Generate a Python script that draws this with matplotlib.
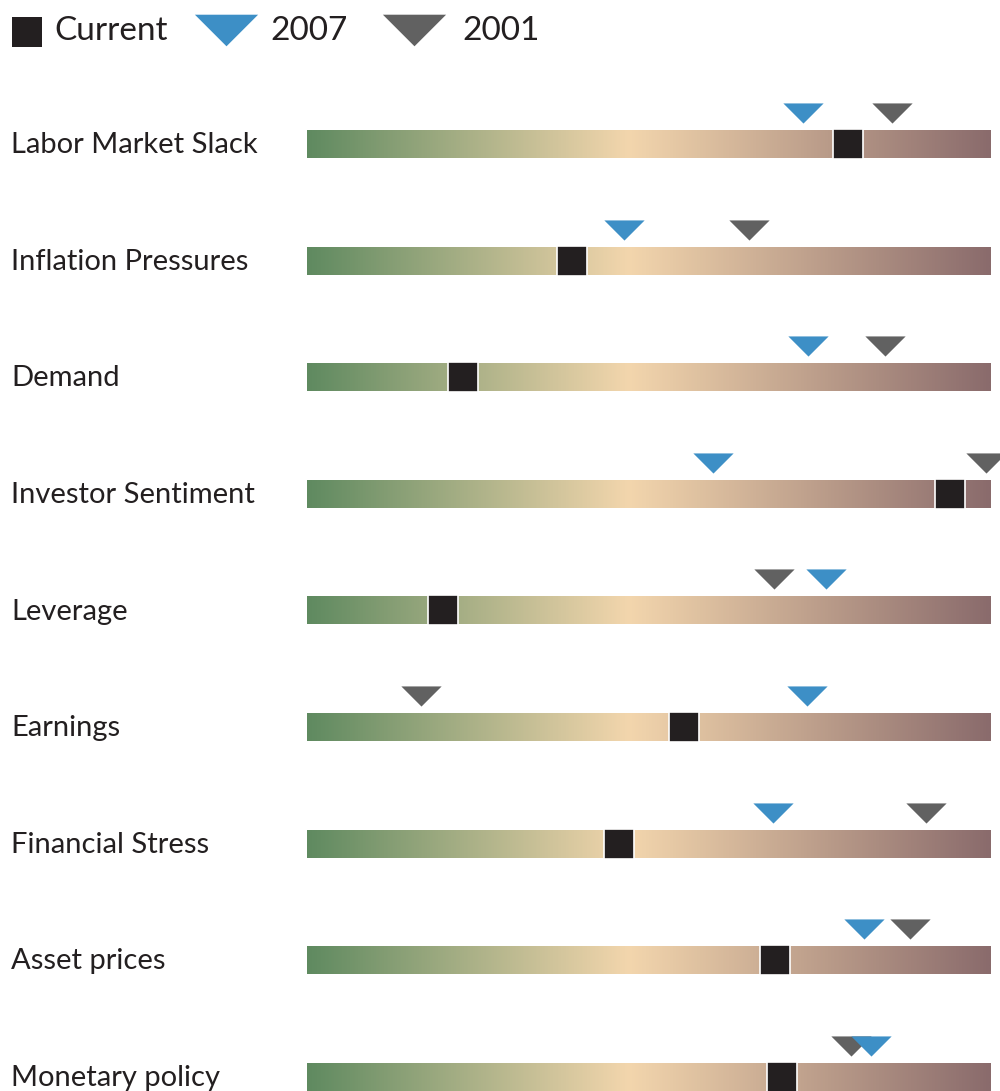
import matplotlib.pyplot as plt
import numpy as np
from matplotlib.colors import LinearSegmentedColormap

plt.rcParams['font.family'] = ['Lato', 'DejaVu Sans']

categories = ["Labor Market Slack", "Inflation Pressures", "Demand", "Investor Sentiment",
              "Leverage", "Earnings", "Financial Stress", "Asset prices", "Monetary policy"]
# positions on the bar, 0 = left end (green), 1 = right end
current = [0.791, 0.387, 0.228, 0.940, 0.199, 0.551, 0.456, 0.684, 0.694]
y2007 = [0.725, 0.463, 0.732, 0.594, 0.759, 0.731, 0.681, 0.814, 0.825]
y2001 = [0.855, 0.646, 0.845, 0.993, 0.683, 0.167, 0.905, 0.882, 0.795]

blue = '#3d8fc6'
grey = '#616161'
black = '#231f20'

cmap = LinearSegmentedColormap.from_list(
    'heat', [(0, '#5f8a60'), (0.47, '#f3d6ad'), (1, '#8a6b6c')])

fig = plt.figure(figsize=(10, 10.91), dpi=100)
ax = fig.add_axes([0, 0, 1, 1])
# bar runs from x=307px to x=991px, rows 116.6px apart starting at 144px
x0 = -307 / 684
ax.set_xlim(x0, (1000 - 307) / 684)
ax.set_ylim((1091 - 144) / 116.6, -144 / 116.6)
ax.axis('off')

grad = np.linspace(0, 1, 512).reshape(1, -1)
half = 0.12
tri = [(-1, 0.5), (1, 0.5), (0, -0.5), (-1, 0.5)]

for i, name in enumerate(categories):
    ax.imshow(grad, cmap=cmap, aspect='auto', extent=[0, 1, i + half, i - half],
              interpolation='bilinear', zorder=1)
    ax.text(x0 + 11 / 684, i + 0.01, name, ha='left', va='center',
            fontsize=21, color=black)

rows = np.arange(len(categories))
ax.plot(current, rows, ls='', marker='s', markersize=21, markerfacecolor=black,
        markeredgecolor='white', markeredgewidth=1.2, zorder=3)
ax.plot(y2001, rows - 0.266, ls='', marker=tri, markersize=29, color=grey,
        markeredgewidth=0, zorder=4, clip_on=False)
ax.plot(y2007, rows - 0.266, ls='', marker=tri, markersize=29, color=blue,
        markeredgewidth=0, zorder=5, clip_on=False)
ax.set_xlim(x0, (1000 - 307) / 684)

# legend, laid out in pixel coordinates
lg = fig.add_axes([0, 0, 1, 1])
lg.set_xlim(0, 1000)
lg.set_ylim(1091, 0)
lg.axis('off')
lg.plot([26.5], [31.5], ls='', marker='s', markersize=21, color=black, markeredgewidth=0)
lg.text(54, 40.5, 'Current', fontsize=24, color=black, va='baseline', ha='left')
lg.plot([225.5], [30], ls='', marker=tri, markersize=45.5, color=blue, markeredgewidth=0)
lg.text(270, 40.5, '2007', fontsize=24, color=black, va='baseline', ha='left')
lg.plot([413.5], [30], ls='', marker=tri, markersize=45.5, color=grey, markeredgewidth=0)
lg.text(462, 40.5, '2001', fontsize=24, color=black, va='baseline', ha='left')

fig.savefig('out.png', dpi=100)
